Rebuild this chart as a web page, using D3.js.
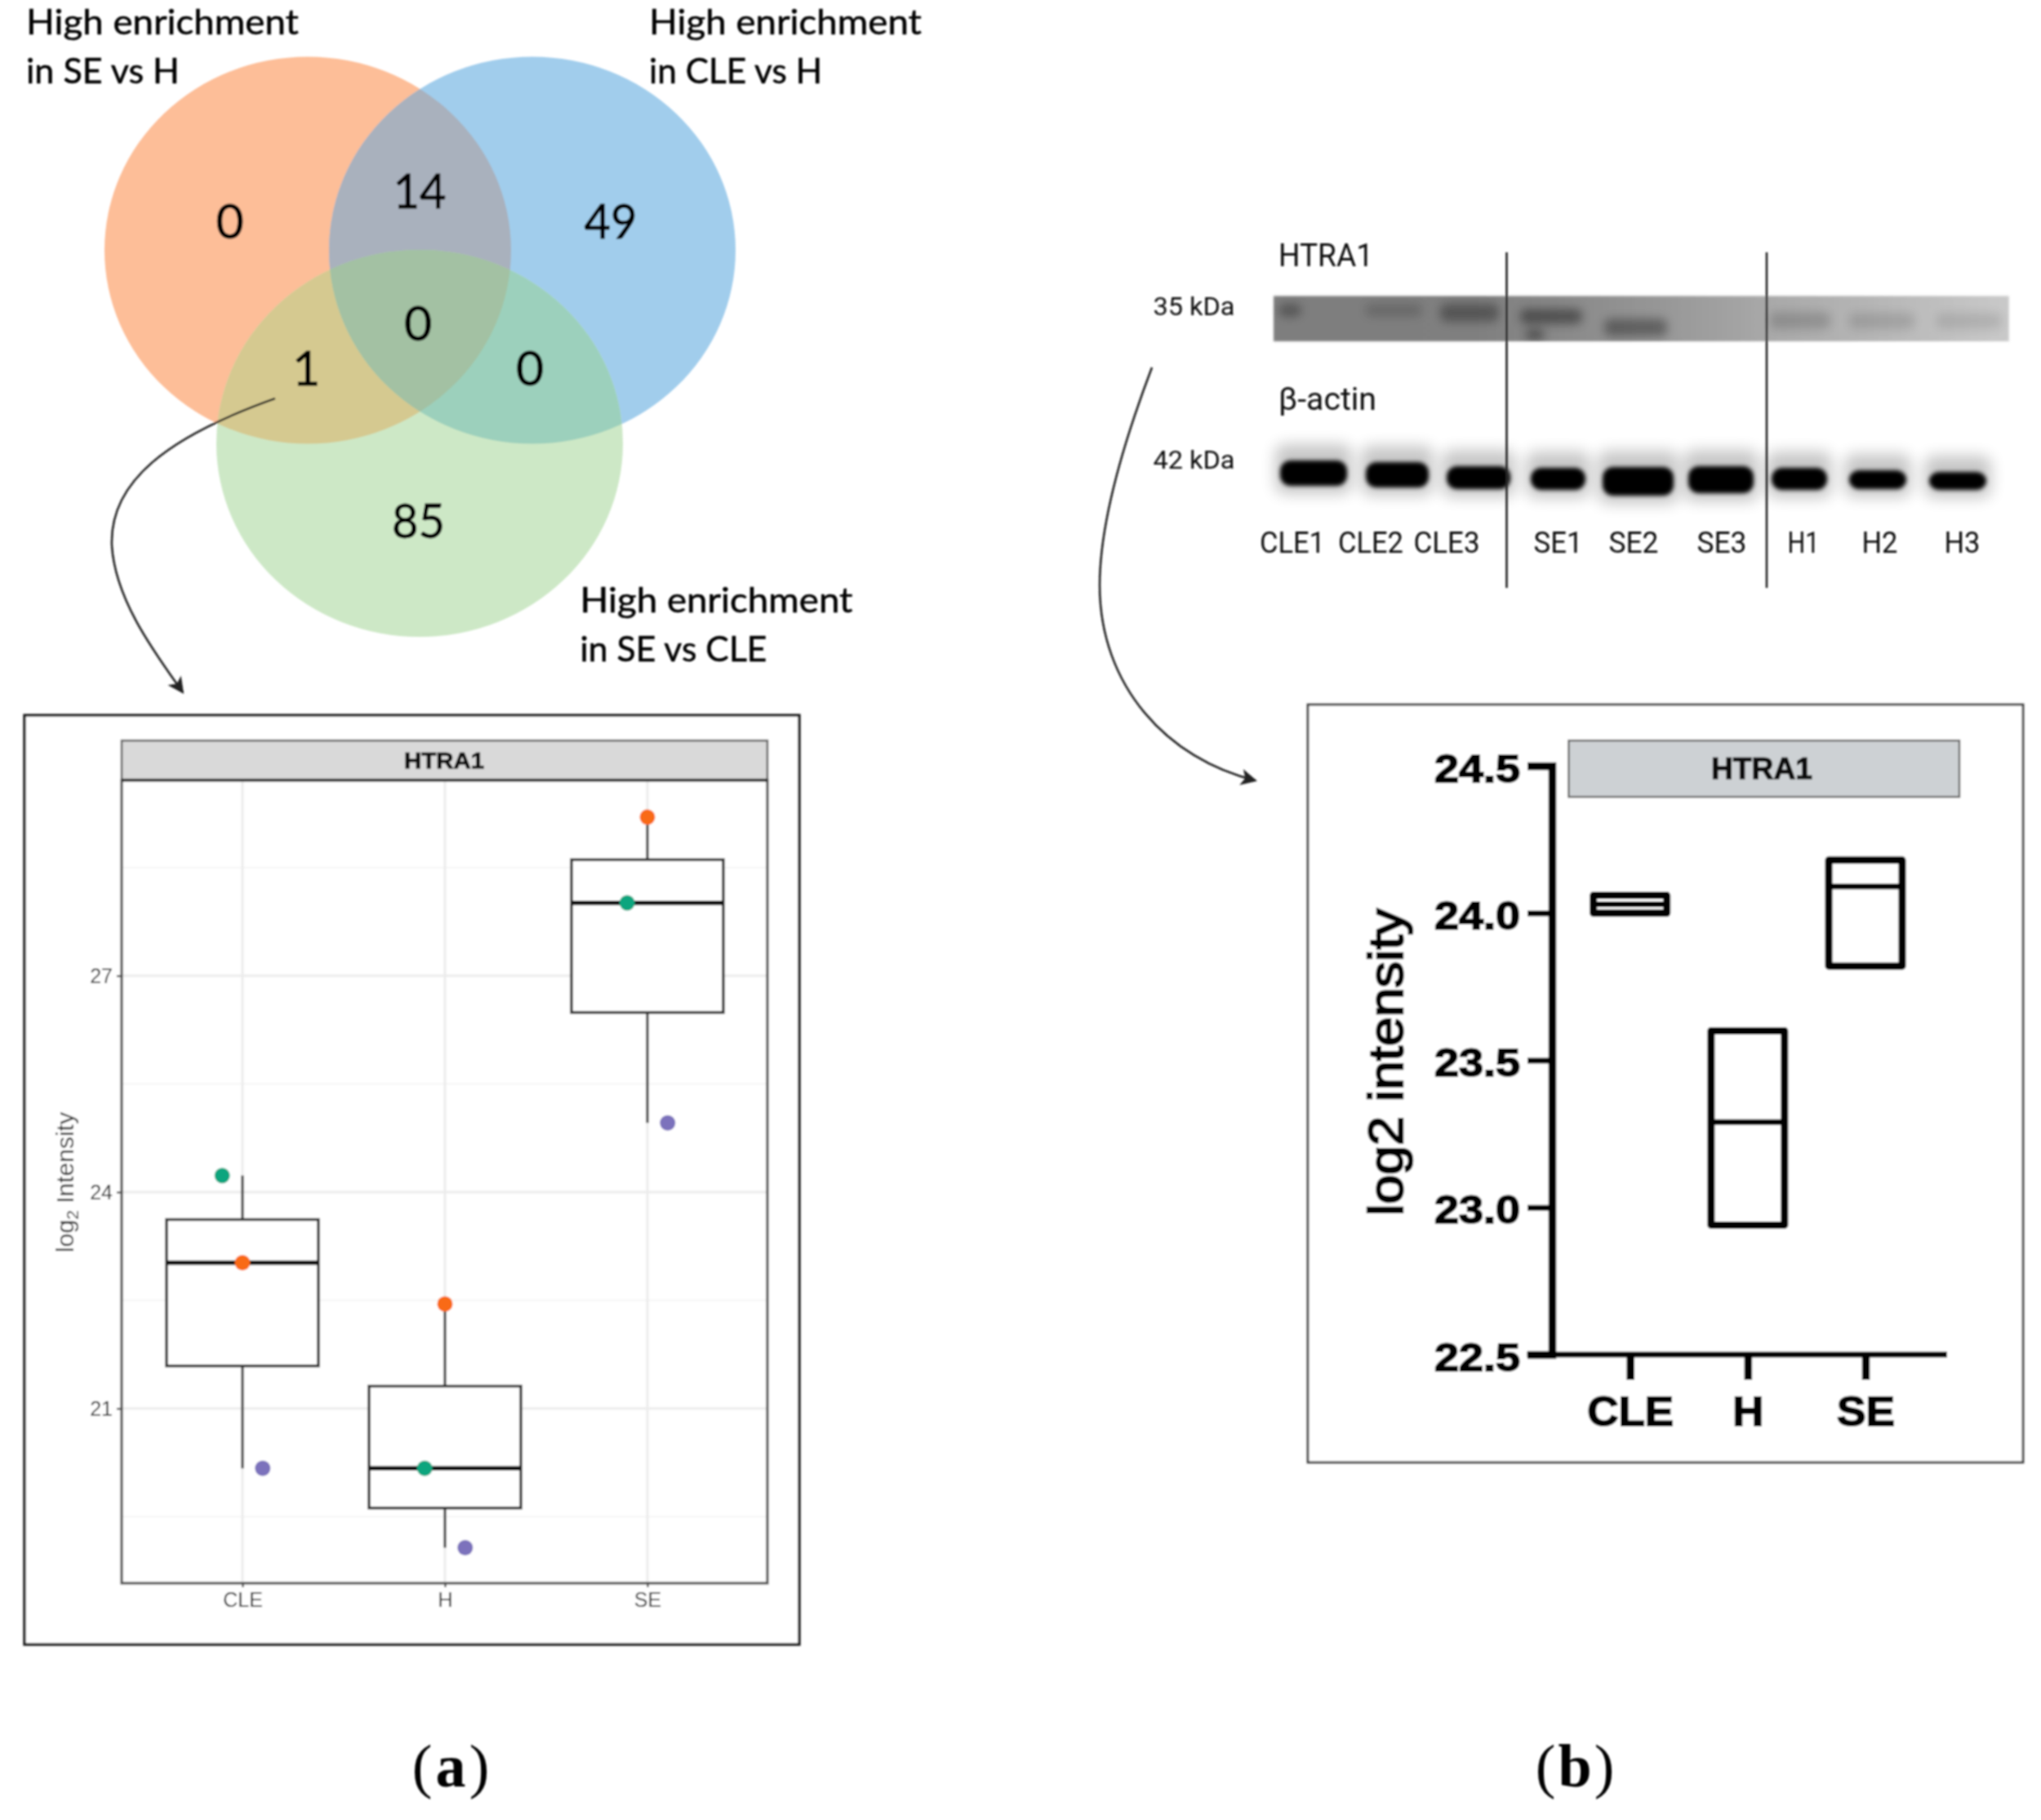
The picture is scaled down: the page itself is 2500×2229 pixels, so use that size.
<!DOCTYPE html>
<html><head><meta charset="utf-8">
<script src="https://cdn.jsdelivr.net/npm/d3@7/dist/d3.min.js"></script>
<style>html,body{margin:0;padding:0;background:#fff}svg{display:block}</style>
</head><body><svg id="c" width="2500" height="2229" viewBox="0 0 2500 2229"></svg>
<script>
// ---------- Venn ----------
const vennSetNames = ["SE vs H", "CLE vs H", "SE vs CLE"];
const vennColors = {o:"#FDBE98", b:"#A1CDEC", g:"#CDE8C6", ob:"#A9B1BD", og:"#D5C990", bg:"#9CD0BC", obg:"#A3C1A3"};
const vennCounts = ["0","14","49","1","0","0","85"];
// ---------- Panel a box plot ----------
const groupsA = ["CLE","H","SE"];
const whiskerHighA = [24.23, 22.45, 29.20];
const q3A = [23.62, 21.31, 28.61];
const medianA = [23.02, 20.17, 28.01];
const q1A = [21.59, 19.62, 26.49];
const whiskerLowA = [20.17, 19.07, 24.96];
const pointsOrange = [23.02, 22.45, 29.20];
const pointsGreen = [24.23, 20.17, 28.01];
const pointsPurple = [20.17, 19.07, 24.96];
const majorTicksA = [21,24,27];
const minorTicksA = [19.5,22.5,25.5,28.5];
// ---------- Panel b floating bars ----------
const groupsB = ["CLE","H","SE"];
const maxB = [24.06, 23.60, 24.18];
const lineB = [24.03, 23.29, 24.09];
const minB = [24.00, 22.94, 23.82];
const ticksB = [22.5,23.0,23.5,24.0,24.5];
// ---------- Blot (lanes read along the membrane) ----------
const laneLabels = ["CLE1","CLE2","CLE3","SE1","SE2","SE3","H1","H2","H3"];
const laneLabelPos = [23,119,212,348.5,441,549,649,742.5,843.5];
const laneLabelLen = [80,80,81,60,61,61,39,44,44];
const dividerPos = [285.5,604];
const actinStart = [8,113,212,315,403,508,610,705,803];
const actinEnd = [90,190,290,382,490,588,678,775,873];
const actinTop = [564,566,571,573,572,571,573,576,578];
const actinBottom = [595,597,599,600,607,604,600,599,600];
const htraStart = [6,112,204,302,405,608,705,812,308];
const htraEnd = [34,182,276,378,482,682,785,892,332];
const htraTop = [372,372,372,378,390,382,383,383,403];
const htraBottom = [388,388,394,397,412,403,403,403,417];
const htraDark = [.30,.16,.32,.40,.34,.16,.12,.10,.38];
const stripShadeStops = [[0,"#7E7E7E"],[.27,"#7F7F7F"],[.38,"#888888"],[.52,"#969696"],[.67,"#A8A8A8"],[.82,"#B6B6B6"],[1,"#C9C9C9"]];

const svg = d3.select("#c");
const defs = svg.append("defs");
const f = (id,s)=>defs.append("filter").attr("id",id).attr("filterUnits","userSpaceOnUse")
  .attr("x",0).attr("y",0).attr("width",2500).attr("height",2229)
  .append("feGaussianBlur").attr("stdDeviation",s);
f("soft",.8); f("b1",1.2); f("b3",2.6); f("b6",6); f("b8",9);
defs.append("marker").attr("id","ah").attr("viewBox","0 0 10 10").attr("refX",9).attr("refY",5)
  .attr("markerWidth",23).attr("markerHeight",20).attr("markerUnits","userSpaceOnUse").attr("orient","auto")
  .append("path").attr("d","M0,0L10,5L0,10L2.5,5Z").attr("fill","#222");

const root = svg.append("g").attr("filter","url(#soft)");
function T(g,str,x,y,o={}){
  const t=g.append("text").attr("x",x).attr("y",y).text(str)
   .attr("font-family",o.font||"Lato").attr("font-size",o.size||40)
   .attr("fill",o.fill||"#111").attr("text-anchor",o.anchor||"start")
   .attr("font-weight",o.weight||"normal");
  if(o.len) t.attr("textLength",o.len).attr("lengthAdjust","spacingAndGlyphs");
  if(o.stroke) t.attr("stroke",o.fill||"#111").attr("stroke-width",o.stroke);
  if(o.rotate!==undefined) t.attr("transform",`rotate(${o.rotate},${x},${y})`);
  return t;
}
// ===== Venn =====
const vx = d3.scaleLinear().domain([0,1]).range([377,652]);
const vy = d3.scaleLinear().domain([0,1]).range([306.5,543]);
const vs = [{k:"o",u:0,v:0},{k:"b",u:1,v:0},{k:"g",u:.4982,v:1}];
const rx=249, ry=237;
const venn = root.append("g");
vs.forEach(s=>{
  defs.append("clipPath").attr("id","clip-"+s.k).append("ellipse")
   .attr("cx",vx(s.u)).attr("cy",vy(s.v)).attr("rx",rx).attr("ry",ry);
});
const E=(g,s,c)=>g.append("ellipse").attr("cx",vx(s.u)).attr("cy",vy(s.v)).attr("rx",rx).attr("ry",ry).attr("fill",c);
const [so,sb,sg]=vs;
E(venn,so,vennColors.o);
E(venn,sb,vennColors.b);
E(venn,sg,vennColors.g);
E(venn.append("g").attr("clip-path","url(#clip-o)"),sb,vennColors.ob);
E(venn.append("g").attr("clip-path","url(#clip-o)"),sg,vennColors.og);
E(venn.append("g").attr("clip-path","url(#clip-b)"),sg,vennColors.bg);
E(venn.append("g").attr("clip-path","url(#clip-o)").append("g").attr("clip-path","url(#clip-b)"),sg,vennColors.obg);
const countPos=[[281.5,271],[514,234],[748,271],[375,451],[512,396],[649,451],[512.5,638]];
vennCounts.forEach((c,i)=>T(venn,c,countPos[i][0],countPos[i][1]+21,{size:59,anchor:"middle",fill:"#000",stroke:.9,len:c.length>1?65:undefined}));
const capLoc=[[32,42,102],[795,42,102],[710.5,750,810]];
vennSetNames.forEach((n,i)=>{
  const [x,y1,y2]=capLoc[i];
  T(venn,"High enrichment",x,y1,{size:43,len:334,fill:"#000",stroke:.5});
  T(venn,"in "+n,x,y2,{size:43,len:[188,212,229][i],fill:"#000",stroke:.5});
});
// arrows
const ar=root.append("g").attr("fill","none").attr("stroke","#222").attr("stroke-width",2.6);
ar.append("path").attr("d","M337,488C205,535 134,590 137,668C141,735 190,800 224,848").attr("marker-end","url(#ah)");
ar.append("path").attr("d","M1411,450C1375,545 1347,640 1347,717C1347,840 1430,930 1538,956").attr("marker-end","url(#ah)");

// ===== Panel a =====
const A = root.append("g");
A.append("rect").attr("x",30).attr("y",876).attr("width",949).attr("height",1138).attr("fill","#fff").attr("stroke","#222").attr("stroke-width",3.4);
const xa = d3.scalePoint().domain(groupsA).range([297,793]);
const ya = d3.scaleLinear().domain([21,27]).range([1725,1195]);
const pL=149,pR=940,pT=955.5,pB=1939;
const grid=A.append("g").attr("fill","none");
minorTicksA.forEach(v=>grid.append("line").attr("x1",pL).attr("x2",pR).attr("y1",ya(v)).attr("y2",ya(v)).attr("stroke","#F2F2F2").attr("stroke-width",1.5));
majorTicksA.forEach(v=>grid.append("line").attr("x1",pL).attr("x2",pR).attr("y1",ya(v)).attr("y2",ya(v)).attr("stroke","#ECECEC").attr("stroke-width",3));
groupsA.forEach(c=>grid.append("line").attr("x1",xa(c)).attr("x2",xa(c)).attr("y1",pT).attr("y2",pB).attr("stroke","#ECECEC").attr("stroke-width",3));
const bw=xa.step()*.75;
groupsA.forEach((c,i)=>{
  const g=A.append("g"), x=xa(c);
  g.append("line").attr("x1",x).attr("x2",x).attr("y1",ya(whiskerHighA[i])).attr("y2",ya(q3A[i])).attr("stroke","#444").attr("stroke-width",3.2);
  g.append("line").attr("x1",x).attr("x2",x).attr("y1",ya(q1A[i])).attr("y2",ya(whiskerLowA[i])).attr("stroke","#444").attr("stroke-width",3.2);
  g.append("rect").attr("x",x-bw/2).attr("width",bw).attr("y",ya(q3A[i])).attr("height",ya(q1A[i])-ya(q3A[i])).attr("fill","#fff").attr("stroke","#333").attr("stroke-width",3.4);
  g.append("line").attr("x1",x-bw/2).attr("x2",x+bw/2).attr("y1",ya(medianA[i])).attr("y2",ya(medianA[i])).attr("stroke","#111").attr("stroke-width",5.5);
});
const dot=(vals,off,col)=>A.append("g").selectAll("circle").data(vals).join("circle")
  .attr("cx",(d,i)=>xa(groupsA[i])+off*xa.step()).attr("cy",d=>ya(d)).attr("r",9.5).attr("fill",col);
dot(pointsOrange,0,"#F96A12"); dot(pointsGreen,-.1,"#0DA57E"); dot(pointsPurple,.1,"#7B72BC");
A.append("rect").attr("x",pL).attr("y",pT).attr("width",pR-pL).attr("height",pB-pT).attr("fill","none").attr("stroke","#555").attr("stroke-width",3.2);
A.append("rect").attr("x",pL).attr("y",907).attr("width",pR-pL).attr("height",pT-907).attr("fill","#D9D9D9").attr("stroke","#666").attr("stroke-width",2.6);
A.append("line").attr("x1",pL).attr("x2",pR).attr("y1",pT).attr("y2",pT).attr("stroke","#1a1a1a").attr("stroke-width",3.4);
T(A,"HTRA1",544,941,{font:"Liberation Sans",weight:"bold",size:28,anchor:"middle",len:98,fill:"#111",stroke:.9});
const ayA=A.append("g").attr("transform",`translate(${pL},0)`).call(d3.axisLeft(ya).tickValues(majorTicksA).tickFormat(d3.format("d")).tickSize(6).tickPadding(5));
ayA.select(".domain").remove();
ayA.selectAll("line").attr("stroke","#444").attr("stroke-width",2.2);
ayA.selectAll("text").attr("font-family","Liberation Sans").attr("font-size",25).attr("fill","#222");
const axA=A.append("g").attr("transform",`translate(0,${pB})`).call(d3.axisBottom(xa).tickSize(5).tickPadding(6.5));
axA.select(".domain").remove();
axA.selectAll("line").attr("stroke","#444").attr("stroke-width",2.2);
axA.selectAll("text").attr("font-family","Liberation Sans").attr("font-size",25).attr("fill","#222");
const yl=T(A,"",90,1448,{font:"Liberation Sans",size:30,anchor:"middle",fill:"#2a2a2a",rotate:-90});
yl.append("tspan").text("log");
yl.append("tspan").text("2").attr("dy",6).attr("font-size",21);
yl.append("tspan").text(" Intensity").attr("dy",-6);
T(root,"(",517,2188,{font:"Liberation Serif",size:74,anchor:"middle",fill:"#000"});
T(root,"a",552,2188,{font:"Liberation Serif",size:74,anchor:"middle",fill:"#000",weight:"bold"});
T(root,")",587,2188,{font:"Liberation Serif",size:74,anchor:"middle",fill:"#000"});

// ===== Blot =====
const B=root.append("g");
const bx=d3.scaleLinear().domain([0,900.7]).range([1560,2460.7]);
const grad=defs.append("linearGradient").attr("id","strip").attr("x1",0).attr("x2",1).attr("y1",0).attr("y2",0);
stripShadeStops.forEach(s=>grad.append("stop").attr("offset",s[0]).attr("stop-color",s[1]));
defs.append("clipPath").attr("id","stripClip").append("rect").attr("x",bx(0)).attr("y",362.5).attr("width",900.7).attr("height",55.5);
B.append("rect").attr("x",bx(0)).attr("y",362.5).attr("width",900.7).attr("height",55.5).attr("fill","url(#strip)").attr("filter","url(#b1)");
const sb1=B.append("g").attr("clip-path","url(#stripClip)");
htraStart.forEach((s,i)=>sb1.append("rect").attr("x",bx(s)).attr("width",bx(htraEnd[i])-bx(s)).attr("y",htraTop[i]).attr("height",htraBottom[i]-htraTop[i])
  .attr("rx",8).attr("fill","#000").attr("opacity",htraDark[i]).attr("filter","url(#b6)"));
actinStart.forEach((s,i)=>B.append("rect").attr("x",bx(s)-6).attr("width",bx(actinEnd[i])-bx(s)+12).attr("y",actinTop[i]-20).attr("height",actinBottom[i]-actinTop[i]+30)
  .attr("rx",12).attr("fill","#000").attr("opacity",.22).attr("filter","url(#b8)"));
actinStart.forEach((s,i)=>B.append("rect").attr("x",bx(s)).attr("width",bx(actinEnd[i])-bx(s)).attr("y",actinTop[i]).attr("height",actinBottom[i]-actinTop[i])
  .attr("rx",13).attr("fill","#000").attr("filter","url(#b3)"));
dividerPos.forEach(p=>B.append("line").attr("x1",bx(p)).attr("x2",bx(p)).attr("y1",309).attr("y2",720).attr("stroke","#222").attr("stroke-width",2.6));
T(B,"HTRA1",1566,326,{font:"Roboto",size:39,len:116,fill:"#111"});
T(B,"\u03B2-actin",1566,502,{font:"Roboto",size:39,len:120,fill:"#111"});
T(B,"35 kDa",1412.5,385.5,{font:"Roboto",size:32,len:100,fill:"#111"});
T(B,"42 kDa",1412.5,574,{font:"Roboto",size:32,len:100,fill:"#111"});
laneLabels.forEach((l,i)=>T(B,l,bx(laneLabelPos[i]),677,{font:"Roboto",size:36,anchor:"middle",fill:"#111",len:laneLabelLen[i]}));

// ===== Panel b =====
const P=root.append("g");
P.append("rect").attr("x",1602).attr("y",863).attr("width",876).attr("height",928).attr("fill","#fff").attr("stroke","#444").attr("stroke-width",2.8);
const xb=d3.scalePoint().domain(groupsB).range([1996.7,2285]);
const yb=d3.scaleLinear().domain([22.5,24.5]).range([1659,938]);
P.append("rect").attr("x",1921.5).attr("y",907).attr("width",478.5).attr("height",69).attr("fill","#CDD1D4").attr("stroke","#666").attr("stroke-width",2.4);
T(P,"HTRA1",2158,954,{font:"Liberation Sans",weight:"bold",size:37,anchor:"middle",len:124,fill:"#111",stroke:1.2});
const ayB=P.append("g").attr("transform","translate(1901,0)").call(d3.axisLeft(yb).tickValues(ticksB).tickFormat(d3.format(".1f")).tickSize(30).tickPadding(8));
ayB.select(".domain").attr("stroke","#000").attr("stroke-width",9.5);
ayB.selectAll("line").attr("stroke","#000").attr("stroke-width",7);
ayB.selectAll("text").attr("font-family","Liberation Sans").attr("font-weight","bold").attr("font-size",48).attr("fill","#000")
  .attr("stroke","#000").attr("stroke-width",1.8).attr("dy","0.4em").attr("dx",-1)
  .attr("textLength",105).attr("lengthAdjust","spacingAndGlyphs");
P.append("line").attr("x1",1870.5).attr("x2",2385).attr("y1",yb(22.5)).attr("y2",yb(22.5)).attr("stroke","#000").attr("stroke-width",7);
const axB=P.append("g").attr("transform",`translate(0,${yb(22.5)})`).call(d3.axisBottom(xb).tickSize(31).tickPadding(20));
axB.select(".domain").remove();
axB.selectAll("line").attr("stroke","#000").attr("stroke-width",9.5);
axB.selectAll("text").attr("font-family","Liberation Sans").attr("font-weight","bold").attr("font-size",50).attr("fill","#000")
  .attr("stroke","#000").attr("stroke-width",1.8)
  .each(function(d){d3.select(this).attr("textLength",{CLE:106,H:38,SE:71}[d]).attr("lengthAdjust","spacingAndGlyphs");});
T(P,"log2 intensity",1718,1301,{font:"Liberation Sans",size:59,anchor:"middle",len:376,fill:"#000",stroke:2.4,rotate:-90});
const bwb=90;
groupsB.forEach((c,i)=>{
  const g=P.append("g"),x=xb(c);
  g.append("rect").attr("x",x-bwb/2).attr("width",bwb).attr("y",yb(maxB[i])).attr("height",yb(minB[i])-yb(maxB[i]))
    .attr("fill","none").attr("stroke","#000").attr("stroke-width",9).attr("stroke-linejoin","round");
  g.append("line").attr("x1",x-bwb/2).attr("x2",x+bwb/2).attr("y1",yb(lineB[i])).attr("y2",yb(lineB[i])).attr("stroke","#000").attr("stroke-width",7);
});
T(root,"(",1893,2188,{font:"Liberation Serif",size:74,anchor:"middle",fill:"#000"});
T(root,"b",1929,2188,{font:"Liberation Serif",size:74,anchor:"middle",fill:"#000",weight:"bold"});
T(root,")",1965,2188,{font:"Liberation Serif",size:74,anchor:"middle",fill:"#000"});
</script></body></html>
